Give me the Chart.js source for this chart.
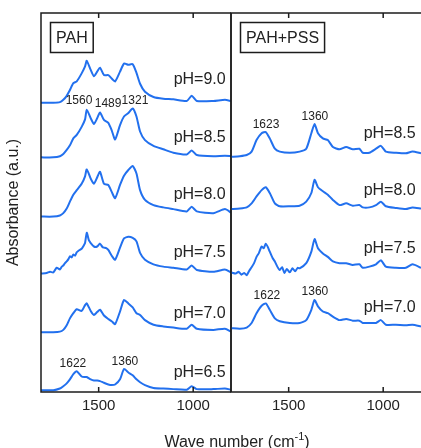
<!DOCTYPE html>
<html lang="en">
<head>
  <meta charset="UTF-8">
  <title>FTIR spectra PAH / PAH+PSS</title>
  <script src="https://cdn.jsdelivr.net/npm/chart.js"></script>
  <style>
    html, body { margin: 0; padding: 0; background: #fff; overflow: hidden; }
    body { width: 421px; height: 448px; position: relative; font-family: Arial, "Liberation Sans", sans-serif; }
    .panel { position: absolute; top: 0; height: 448px; }
    #leftBox { left: 0; width: 232px; }
    #rightBox { left: 226px; width: 197px; }
    #xTitle { position: absolute; left: 0; width: 474px; top: 433px; line-height: 18px;
              text-align: center; font-size: 16px; color: #222; white-space: nowrap; }
    #xTitle sup { font-size: 11px; line-height: 0; vertical-align: 7px; }
  </style>
</head>
<body>

  <div class="panel" id="leftBox"><canvas id="chartLeft"></canvas></div>
  <div class="panel" id="rightBox"><canvas id="chartRight"></canvas></div>
  <div id="xTitle">Wave number (cm<sup>-1</sup>)</div>

  <script>
    // wavenumbers (cm-1)
    const WL = [1805, 1740, 1705, 1687, 1669, 1652, 1634, 1616, 1590, 1572, 1563, 1542, 1525, 1508, 1493,
                1472, 1449, 1431, 1413, 1387, 1366, 1343, 1320, 1300, 1281, 1255, 1210, 1158, 1105, 1034,
                1008, 981, 893, 832, 800];
    // the noisy pH 7.5 trace was read on a finer grid
    const WL75 = [1805, 1775, 1757, 1740, 1722, 1705, 1695, 1687, 1678, 1669, 1660, 1652, 1643, 1634, 1625,
                  1616, 1605, 1590, 1580, 1572, 1563, 1552, 1542, 1525, 1508, 1493, 1480, 1472, 1460, 1449,
                  1431, 1413, 1387, 1366, 1343, 1320, 1300, 1281, 1255, 1210, 1158, 1105, 1034, 1008, 981,
                  893, 832, 800];
    // absorbance above each trace's own baseline
    const pah90 = [0, 0, 0.01, 0.05, 0.12, 0.22, 0.34, 0.37, 0.51, 0.63, 0.73, 0.57, 0.46, 0.54, 0.61,
                   0.48, 0.48, 0.42, 0.37, 0.54, 0.68, 0.66, 0.67, 0.52, 0.33, 0.19, 0.10, 0.07, 0.06, 0.03,
                   0.12, 0.03, 0.03, 0.05, 0.03];
    const pah85 = [0, 0, 0.02, 0.06, 0.13, 0.21, 0.33, 0.39, 0.53, 0.66, 0.83, 0.68, 0.58, 0.68, 0.78,
                   0.65, 0.60, 0.47, 0.31, 0.56, 0.71, 0.77, 0.85, 0.71, 0.45, 0.30, 0.20, 0.14, 0.08, 0.05,
                   0.12, 0.04, 0.02, 0.03, 0.02];
    const pah80 = [0, 0, 0.02, 0.06, 0.14, 0.26, 0.38, 0.46, 0.57, 0.70, 0.82, 0.66, 0.57, 0.68, 0.78,
                   0.57, 0.55, 0.43, 0.32, 0.55, 0.71, 0.81, 0.88, 0.75, 0.46, 0.29, 0.20, 0.16, 0.13, 0.09,
                   0.17, 0.09, 0.06, 0.13, 0.07];
    const pah75 = [0, 0.01, 0.03, 0.02, 0.10, 0.07, 0.12, 0.14, 0.18, 0.21, 0.25, 0.30, 0.28, 0.33, 0.31,
                   0.37, 0.40, 0.43, 0.48, 0.53, 0.71, 0.58, 0.53, 0.47, 0.47, 0.52, 0.46, 0.45, 0.44, 0.41,
                   0.31, 0.24, 0.45, 0.61, 0.64, 0.62, 0.56, 0.36, 0.24, 0.16, 0.12, 0.10, 0.07, 0.14, 0.06,
                   0.03, 0.07, 0.02];
    const pah70 = [0, 0, 0.01, 0.04, 0.12, 0.24, 0.33, 0.40, 0.37, 0.47, 0.50, 0.37, 0.30, 0.35, 0.39,
                   0.29, 0.23, 0.19, 0.14, 0.36, 0.56, 0.50, 0.43, 0.33, 0.30, 0.21, 0.13, 0.10, 0.08, 0.06,
                   0.13, 0.06, 0.04, 0.06, 0.01];
    const pah65 = [0, 0, 0.03, 0.07, 0.12, 0.19, 0.28, 0.33, 0.24, 0.23, 0.23, 0.19, 0.17, 0.17, 0.16,
                   0.13, 0.10, 0.09, 0.10, 0.19, 0.37, 0.31, 0.26, 0.19, 0.14, 0.09, 0.04, 0.03, 0.02, 0.01,
                   0.07, 0.02, 0.02, 0.03, 0.01];
    const leftPH = ['pH=9.0', 'pH=8.5', 'pH=8.0', 'pH=7.5', 'pH=7.0', 'pH=6.5'];
    const leftOffsets = [5.03, 4.08, 3.05, 2.06, 1.04, 0.03];

    // PAH+PSS panel
    const WR = [1805, 1758, 1722, 1696, 1670, 1643, 1621, 1600, 1573, 1547, 1494, 1442, 1407, 1380, 1363,
                1345, 1319, 1293, 1266, 1231, 1196, 1161, 1126, 1108, 1073, 1038, 1012, 986, 933, 880,
                845, 800];
    const WR75 = [1805, 1780, 1765, 1750, 1735, 1722, 1710, 1696, 1683, 1670, 1657, 1643, 1632, 1621, 1610,
                  1600, 1585, 1573, 1560, 1547, 1535, 1522, 1510, 1494, 1480, 1466, 1452, 1442, 1407, 1380,
                  1363, 1345, 1319, 1293, 1266, 1231, 1196, 1161, 1126, 1108, 1073, 1038, 1012, 986, 933,
                  880, 845, 800];
    const pss85 = [0, 0.01, 0.03, 0.09, 0.29, 0.41, 0.43, 0.32, 0.14, 0.09, 0.07, 0.09, 0.14, 0.41, 0.57,
                   0.41, 0.32, 0.29, 0.17, 0.13, 0.17, 0.13, 0.14, 0.07, 0.07, 0.14, 0.19, 0.09, 0.07, 0.06,
                   0.09, 0.06];
    const pss80 = [0, 0.01, 0.03, 0.10, 0.22, 0.33, 0.38, 0.28, 0.10, 0.05, 0.05, 0.06, 0.13, 0.28, 0.51,
                   0.38, 0.31, 0.25, 0.16, 0.07, 0.10, 0.06, 0.07, 0.03, 0.03, 0.07, 0.13, 0.05, 0.02, 0,
                   0.03, 0.01];
    const pss75 = [0, -0.02, 0.01, -0.04, -0.01, -0.05, 0.02, 0.09, 0.16, 0.27, 0.34, 0.45, 0.42, 0.50, 0.44,
                   0.36, 0.25, 0.19, 0.10, 0.04, 0.09, -0.01, 0.06, 0.00, 0.07, 0.02, 0.08, 0.07, 0.16, 0.36,
                   0.58, 0.42, 0.33, 0.27, 0.19, 0.16, 0.16, 0.13, 0.14, 0.08, 0.10, 0.14, 0.21, 0.10, 0.08,
                   0.08, 0.14, 0.08];
    const pss70 = [0, -0.01, 0.01, 0.09, 0.26, 0.39, 0.43, 0.32, 0.17, 0.12, 0.09, 0.09, 0.14, 0.32, 0.49,
                   0.38, 0.29, 0.26, 0.20, 0.14, 0.16, 0.13, 0.13, 0.09, 0.09, 0.09, 0.14, 0.06, 0.06, 0.05,
                   0.06, 0.03];
    const rightPH = ['pH=8.5', 'pH=8.0', 'pH=7.5', 'pH=7.0'];
    const rightOffsets = [4.09, 3.18, 2.08, 1.11];

    const xTicks = [1500, 1000];
    const wnMin = 800, wnMax = 1805;
    const yMax = 6.59;

    // label positions in data units [text, wavenumber, absorbance]
    const leftLabelY = [5.44, 4.43, 3.43, 2.42, 1.36, 0.33];
    const rightLabelY = [4.50, 3.51, 2.49, 1.46];
    const leftPeaks = [['1560', 1604, 5.06], ['1489', 1450, 5.01], ['1321', 1308, 5.06],
                       ['1622', 1636, 0.50], ['1360', 1361, 0.52]];
    const rightPeaks = [['1623', 1620, 4.64], ['1360', 1361, 4.78],
                        ['1622', 1615, 1.67], ['1360', 1361, 1.74]];

    const BLUE = 'rgb(34,112,238)';
    const INK = '#1c1c1c';
    const FONT = 'Arial, "Liberation Sans", sans-serif';

    function makeSets(wns, series, offsets) {
      return series.map((vals, k) => ({
        data: wns[k].map((w, i) => ({ x: w, y: vals[i] + offsets[k] })),
        borderColor: BLUE,
        borderWidth: 2,
        pointRadius: 0,
        tension: 0.2,
        fill: false
      }));
    }

    // frame, inward ticks, pH/peak labels and the panel tag box
    const decor = {
      id: 'decor',
      afterDraw(chart, args, o) {
        const { ctx, chartArea: a, scales: { x, y } } = chart;
        ctx.save();
        ctx.strokeStyle = INK;
        ctx.lineWidth = 1.5;
        ctx.beginPath();
        ctx.moveTo(a.right, a.top); ctx.lineTo(a.left, a.top);
        ctx.lineTo(a.left, a.bottom); ctx.lineTo(a.right, a.bottom);
        if (o.rightEdge) { ctx.moveTo(a.right, a.top); ctx.lineTo(a.right, a.bottom); }
        xTicks.forEach(v => {
          const px = x.getPixelForValue(v);
          ctx.moveTo(px, a.bottom); ctx.lineTo(px, a.bottom - 5);
          ctx.moveTo(px, a.top); ctx.lineTo(px, a.top + 5);
        });
        ctx.stroke();

        ctx.fillStyle = '#222';
        ctx.font = '16px ' + FONT;
        ctx.textAlign = 'right';
        ctx.textBaseline = 'middle';
        o.ph.forEach((t, i) => ctx.fillText(t, x.getPixelForValue(828), y.getPixelForValue(o.phY[i])));

        ctx.font = '12px ' + FONT;
        ctx.textAlign = 'center';
        o.peaks.forEach(p => ctx.fillText(p[0], x.getPixelForValue(p[1]), y.getPixelForValue(p[2])));

        // tag box
        ctx.font = '16px ' + FONT;
        const tw = ctx.measureText(o.tag).width;
        const bx = a.left + 9.5, by = a.top + 9.5, bw = tw + 11, bh = 30;
        ctx.strokeRect(bx, by, bw, bh);
        ctx.textAlign = 'left';
        ctx.fillText(o.tag, bx + 5.5, by + bh / 2 + 1);
        ctx.restore();
      }
    };

    function xScale() {
      return {
        type: 'linear', reverse: true, min: wnMin, max: wnMax,
        grid: { display: false, drawTicks: false, tickLength: 0 },
        border: { display: false },
        afterBuildTicks: s => { s.ticks = xTicks.map(v => ({ value: v })); },
        afterFit: s => { s.height = 56; },
        ticks: { padding: 5, color: '#222', font: { size: 15, family: FONT }, callback: v => String(v) }
      };
    }

    new Chart(document.getElementById('chartLeft'), {
      type: 'line',
      data: { datasets: makeSets([WL, WL, WL, WL75, WL, WL], [pah90, pah85, pah80, pah75, pah70, pah65], leftOffsets) },
      options: {
        animation: false,
        responsive: true,
        maintainAspectRatio: false,
        layout: { padding: { top: 13, right: 1, left: 0, bottom: 0 } },
        plugins: {
          legend: { display: false }, tooltip: { enabled: false },
          decor: { rightEdge: true, ph: leftPH, phY: leftLabelY, peaks: leftPeaks, tag: 'PAH' }
        },
        scales: {
          x: xScale(),
          y: {
            min: 0, max: yMax,
            grid: { display: false, drawTicks: false },
            border: { display: false },
            ticks: { display: false },
            afterFit: s => { s.width = 41; },
            title: { display: true, text: 'Absorbance (a.u.)', color: '#222', font: { size: 16, family: FONT } }
          }
        }
      },
      plugins: [decor]
    });

    new Chart(document.getElementById('chartRight'), {
      type: 'line',
      data: { datasets: makeSets([WR, WR, WR75, WR], [pss85, pss80, pss75, pss70], rightOffsets) },
      options: {
        animation: false,
        responsive: true,
        maintainAspectRatio: false,
        layout: { padding: { top: 13, right: 2, left: 5, bottom: 0 } },
        plugins: {
          legend: { display: false }, tooltip: { enabled: false },
          decor: { rightEdge: false, ph: rightPH, phY: rightLabelY, peaks: rightPeaks, tag: 'PAH+PSS' }
        },
        scales: {
          x: xScale(),
          y: { display: false, min: 0, max: yMax }
        }
      },
      plugins: [decor]
    });
  </script>
</body>
</html>
